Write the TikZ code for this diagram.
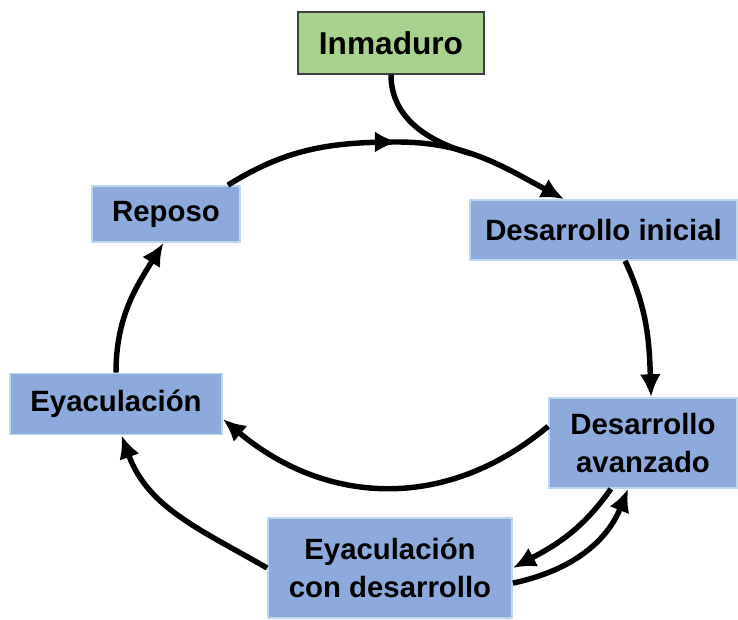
\documentclass[tikz,border=0pt]{standalone}
\usepackage{fontspec}
\setmainfont{Liberation Sans}
\usetikzlibrary{calc,arrows.meta,positioning,decorations.markings}
\definecolor{cgreen}{HTML}{A9D18E}
\definecolor{cgreenline}{HTML}{3F3F3F}
\definecolor{cblue}{HTML}{8EA9DB}
\definecolor{cblueline}{HTML}{BDD7EE}
\begin{document}
\begin{tikzpicture}[font=\fontsize{16.7}{21.5}\selectfont\bfseries,
  box/.style={draw=cblueline, fill=cblue, line width=1pt, align=center, inner sep=0pt,
              minimum width=#1},
  box/.default=3cm,
  start/.style={draw=cgreenline, fill=cgreen, line width=0.8pt, inner sep=0pt,
                minimum width=3.72cm, minimum height=1.24cm, font=\fontsize{18}{22}\selectfont\bfseries},
  tip/.style={-{Latex[length=13pt,width=12pt]}},
  arr/.style={tip, line width=3.1pt, black},
  midtip/.style={decoration={markings, mark=at position #1 with {\arrow{Latex[length=13pt,width=12pt]}}},
                 postaction=decorate}]
\useasboundingbox (0,0) rectangle (14.76,-12.38);
\node[start] (inm) at (7.82,-0.86) {Inmaduro};
\node[box=2.96cm, minimum height=1.12cm] (rep) at (3.32,-4.28) {Reposo};
\node[box=5.34cm, minimum height=1.2cm] (dini) at (12.07,-4.6) {Desarrollo inicial};
\node[box=3.76cm, minimum height=1.8cm] (dav) at (12.86,-8.86) {Desarrollo\\avanzado};
\node[box=4.24cm, minimum height=1.22cm] (eya) at (2.32,-8.08) {Eyaculación};
\node[box=4.88cm, minimum height=2cm] (ecd) at (7.8,-11.36) {Eyaculación\\con desarrollo};
\coordinate (top) at (7.95,-2.84);
%% cycle
\draw[arr, midtip=0.5] (rep.25) to[out=32,in=180] (top)
  to[out=0,in=152] coordinate[pos=0.42] (join) (dini.142);
\draw[line width=3.1pt] (inm.south) to[out=-90,in=164] (join);
\draw[arr] (dini.-55) to[out=-65,in=92] (dav.80);
\draw[arr] (dav.170) to[out=-140,in=-40,looseness=1.05] (eya.-8);
\draw[arr] (dav.235) to[out=-125,in=28] (ecd.east);
\draw[arr] (ecd.-7) to[out=12,in=-112] (dav.252);
\draw[arr] (ecd.west) to[out=150,in=-70] (eya.-80);
\draw[arr] (eya.north) to[out=90,in=-122] (rep.265);
\end{tikzpicture}
\end{document}
